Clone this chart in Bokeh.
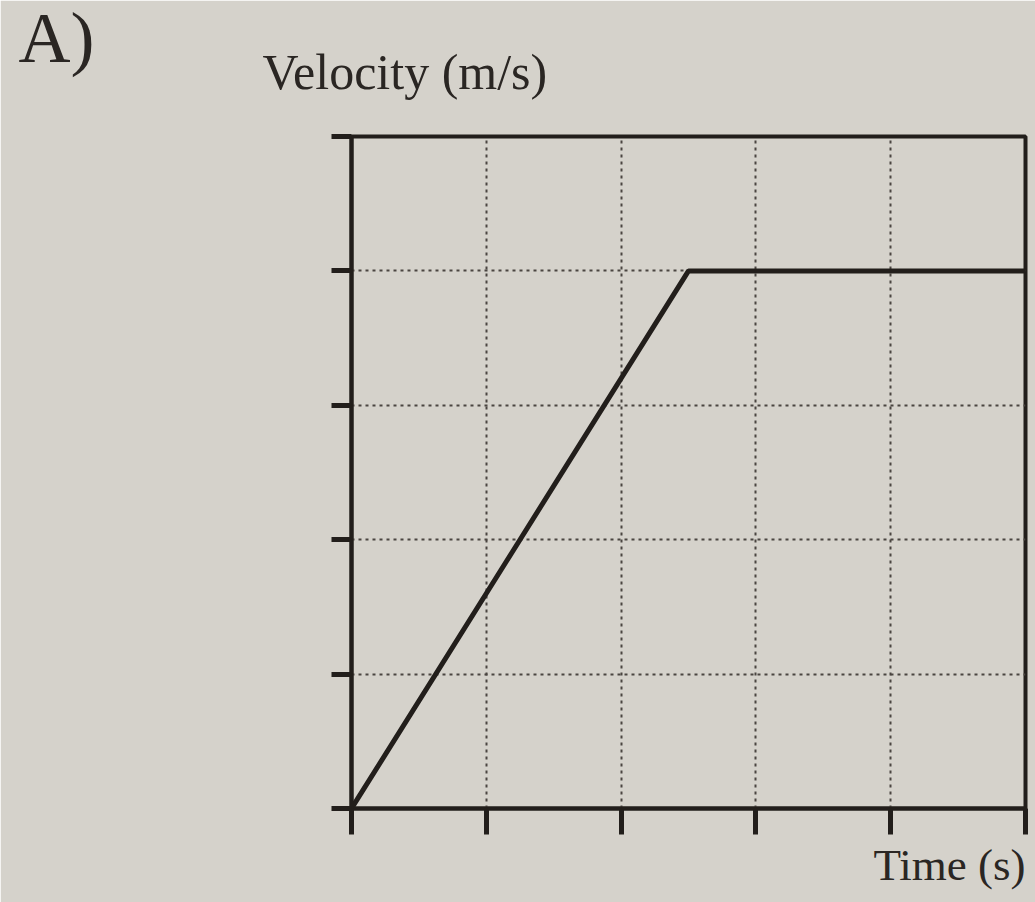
from bokeh.plotting import figure
from bokeh.models import Label, FixedTicker, Range1d, Title
from bokeh.embed import file_html
from bokeh.resources import INLINE

# Motion data: constant acceleration, then constant velocity
time_s = [0, 2.5, 5]
velocity = [0, 4, 4]
tick_positions = [0, 1, 2, 3, 4, 5]

paper = "#d5d2cb"
ink = "#221e1b"
text_ink = "#2a2623"
serif = "Liberation Serif"

p = figure(width=1035, height=902, output_backend="svg", toolbar_location=None,
           x_range=Range1d(0, 5), y_range=Range1d(0, 5),
           min_border_left=351, min_border_right=10, min_border_top=128, min_border_bottom=94)
p.background_fill_color = paper
p.border_fill_color = paper
p.outline_line_color = ink
p.outline_line_width = 4

for ax in (p.xaxis, p.yaxis):
    ax.ticker = FixedTicker(ticks=tick_positions)
    ax.major_label_text_font_size = "0px"
    ax.major_label_text_color = None
    ax.major_label_standoff = 0
    ax.axis_line_color = ink
    ax.axis_line_width = 4
    ax.major_tick_line_color = ink
    ax.major_tick_line_width = 5
    ax.major_tick_in = 0
    ax.minor_tick_line_color = None
p.xaxis.major_tick_out = 26
p.yaxis.major_tick_out = 20

# Time caption, right-aligned under the time axis
p.add_layout(Title(text="Time (s)", align="right", text_font=serif, text_font_style="normal",
                   text_font_size="45px", text_color=text_ink, standoff=6), "below")

p.grid.ticker = FixedTicker(ticks=[1, 2, 3, 4])
p.grid.grid_line_color = "#4a4541"
p.grid.grid_line_width = 2
p.grid.grid_line_dash = "3 4"

p.line(time_s, velocity, line_color=ink, line_width=5)

# Heading texts sit in the top border, positioned in pixels
p.add_layout(Label(x=-89, y=65, x_units="screen", y_units="screen", text="Velocity (m/s)",
                   text_font=serif, text_font_size="50px", text_color=text_ink,
                   text_baseline="alphabetic"), "above")
p.add_layout(Label(x=-333, y=43, x_units="screen", y_units="screen", text="A)",
                   text_font=serif, text_font_size="72px", text_color=text_ink,
                   text_baseline="alphabetic"), "above")

open("out.html", "w").write(file_html(p, INLINE))
